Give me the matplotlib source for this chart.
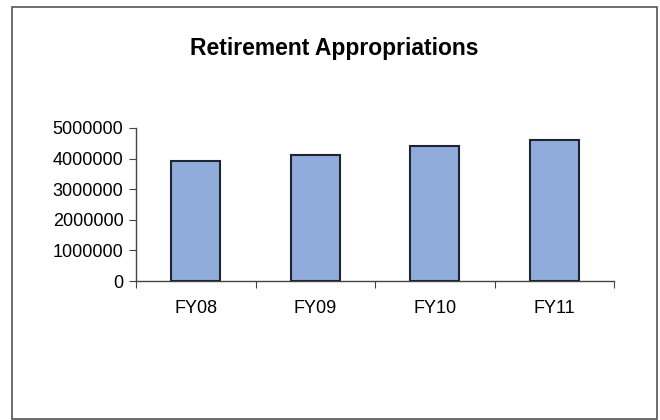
import matplotlib
matplotlib.use("Agg")
import matplotlib.pyplot as plt
from matplotlib.patches import Rectangle

plt.rcParams["font.family"] = ["Liberation Sans", "DejaVu Sans"]

years = ["FY08", "FY09", "FY10", "FY11"]
appropriations = [3930000, 4120000, 4410000, 4610000]
y_ticks = [0, 1000000, 2000000, 3000000, 4000000, 5000000]

fig = plt.figure(figsize=(6.6, 4.2), dpi=100)

# outer chart border
fig.patches.append(Rectangle((12 / 660, 1 / 420), 645 / 660, 412 / 420,
                             transform=fig.transFigure, fill=False,
                             edgecolor="#555555", linewidth=1.2))

ax = fig.add_axes([136 / 660, 1 - 281 / 420, 478 / 660, 153 / 420])

x = range(len(years))
ax.bar(x, appropriations, width=0.41, color="#8FACDB",
       edgecolor="#1f2530", linewidth=1.5, zorder=3)

ax.set_xlim(-0.5, len(years) - 0.5)
ax.set_ylim(0, 5000000)
ax.set_yticks(y_ticks)
ax.set_yticklabels([str(v) for v in y_ticks], fontsize=13)

# category labels at centers, tick marks at boundaries
ax.set_xticks([i - 0.5 for i in range(len(years) + 1)])
ax.set_xticklabels([])
ax.set_xticks(list(x), minor=True)
ax.set_xticklabels(years, minor=True, fontsize=13)
ax.tick_params(axis="x", which="minor", length=0, pad=14)
ax.tick_params(axis="x", which="major", length=5, direction="out", color="#444444")
ax.tick_params(axis="y", length=5, direction="out", color="#444444", pad=4)

for side in ["top", "right"]:
    ax.spines[side].set_visible(False)
for side in ["left", "bottom"]:
    ax.spines[side].set_color("#444444")
    ax.spines[side].set_linewidth(1.0)

fig.text(0.506, 1 - 48 / 420, "Retirement Appropriations", ha="center",
         va="center", fontsize=16.5, fontweight="bold")

fig.savefig("out.png", dpi=100)
